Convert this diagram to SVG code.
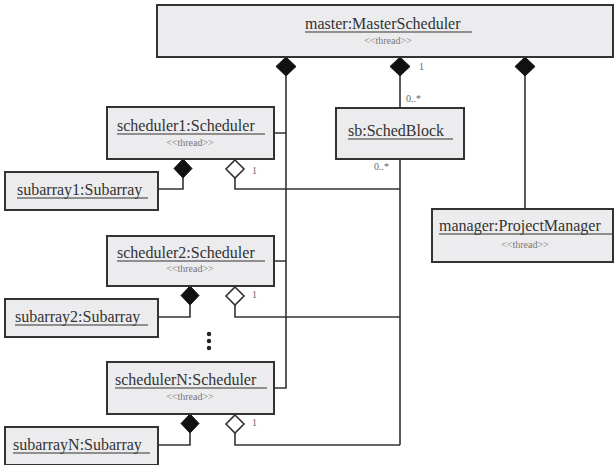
<svg xmlns="http://www.w3.org/2000/svg" width="614" height="465" viewBox="0 0 614 465">
<style>
.box{fill:#ececee;stroke:#333;stroke-width:2}
.name{font-family:'Liberation Serif','Times New Roman','DejaVu Serif',serif;font-size:16px;fill:#333}
.st{font-family:'Liberation Serif','Times New Roman','DejaVu Serif',serif;font-size:10px;fill:#777;text-anchor:middle}
.ul{stroke:#333;stroke-width:1.2}
.c{fill:none;stroke:#333;stroke-width:1.6}
.fd{fill:#111;stroke:#111;stroke-width:1}
.hd{fill:#fff;stroke:#333;stroke-width:1.6}
.m{font-family:'Liberation Serif','Times New Roman','DejaVu Serif',serif;font-size:10px;fill:#666}
</style>
<rect width="614" height="465" fill="#fff"/>
<g id="connectors">
<path class="c" d="M286 76V388H274"/>
<path class="c" d="M286 133H274M286 261H274"/>
<path class="c" d="M400 76V108"/>
<path class="c" d="M525 76V209"/>
<path class="c" d="M400 159V445"/>
<path class="c" d="M183 178V189H158"/>
<path class="c" d="M235 178V189H400"/>
<path class="c" d="M190 305V317H158"/>
<path class="c" d="M235 305V317H400"/>
<path class="c" d="M190 433V445H158"/>
<path class="c" d="M235 433V445H400"/>
<polygon class="fd" points="286,57 296,66.5 286,76 276,66.5"/>
<polygon class="fd" points="400,57 410,66.5 400,76 390,66.5"/>
<polygon class="fd" points="525,57 535,66.5 525,76 515,66.5"/>
<polygon class="fd" points="183,159 192,168.5 183,178 174,168.5"/>
<polygon class="hd" points="235,160 244,169 235,178 226,169"/>
<polygon class="fd" points="190,286 199,295.5 190,305 181,295.5"/>
<polygon class="hd" points="235,287 244,296 235,305 226,296"/>
<polygon class="fd" points="190,414 199,423.5 190,433 181,423.5"/>
<polygon class="hd" points="235,415 244,424 235,433 226,424"/>
<text class="m" x="419" y="70">1</text>
<text class="m" x="406" y="102">0..*</text>
<text class="m" x="374" y="170">0..*</text>
<text class="m" x="252" y="174">1</text>
<text class="m" x="252" y="298">1</text>
<text class="m" x="252" y="426">1</text>
<circle cx="209" cy="334" r="2.2" fill="#222"/>
<circle cx="209" cy="341" r="2.2" fill="#222"/>
<circle cx="209" cy="348" r="2.2" fill="#222"/>
</g>
<g id="master">
<rect class="box" x="157" y="5" width="456" height="52"/>
<text class="name" x="305" y="29">master:MasterScheduler</text>
<line class="ul" x1="305" y1="32" x2="472" y2="32"/>
<text class="st" x="388" y="44">&lt;&lt;thread&gt;&gt;</text>
</g>
<g id="sb">
<rect class="box" x="336" y="108" width="128" height="51"/>
<text class="name" x="348" y="136">sb:SchedBlock</text>
<line class="ul" x1="348" y1="139" x2="453" y2="139"/>
</g>
<g id="manager">
<rect class="box" x="432" y="209" width="181" height="53"/>
<text class="name" x="439" y="231">manager:ProjectManager</text>
<line class="ul" x1="439" y1="234" x2="612" y2="234"/>
<text class="st" x="525" y="248">&lt;&lt;thread&gt;&gt;</text>
</g>
<g id="scheduler1">
<rect class="box" x="107" y="107" width="167" height="52"/>
<text class="name" x="117" y="131">scheduler1:Scheduler</text>
<line class="ul" x1="117" y1="134" x2="265" y2="134"/>
<text class="st" x="190" y="146">&lt;&lt;thread&gt;&gt;</text>
</g>
<g id="subarray1">
<rect class="box" x="5" y="172" width="153" height="38"/>
<text class="name" x="17" y="195">subarray1:Subarray</text>
<line class="ul" x1="17" y1="198" x2="148" y2="198"/>
</g>
<g id="scheduler2">
<rect class="box" x="107" y="236" width="167" height="50"/>
<text class="name" x="117" y="258">scheduler2:Scheduler</text>
<line class="ul" x1="117" y1="261" x2="265" y2="261"/>
<text class="st" x="190" y="272">&lt;&lt;thread&gt;&gt;</text>
</g>
<g id="subarray2">
<rect class="box" x="5" y="299" width="153" height="38"/>
<text class="name" x="15" y="322">subarray2:Subarray</text>
<line class="ul" x1="15" y1="325" x2="148" y2="325"/>
</g>
<g id="schedulerN">
<rect class="box" x="107" y="362" width="167" height="52"/>
<text class="name" x="115" y="385">schedulerN:Scheduler</text>
<line class="ul" x1="115" y1="388" x2="267" y2="388"/>
<text class="st" x="190" y="400">&lt;&lt;thread&gt;&gt;</text>
</g>
<g id="subarrayN">
<rect class="box" x="5" y="427" width="153" height="38"/>
<text class="name" x="13" y="450">subarrayN:Subarray</text>
<line class="ul" x1="13" y1="453" x2="150" y2="453"/>
</g>
</svg>
